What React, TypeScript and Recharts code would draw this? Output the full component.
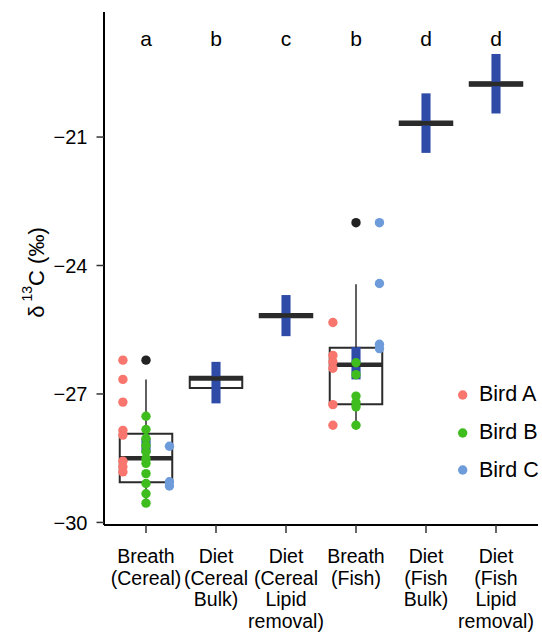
import {
  ComposedChart,
  ReferenceArea,
  ReferenceLine,
  Scatter,
  XAxis,
  YAxis,
} from "recharts";

const categories = [
  "Breath\n(Cereal)",
  "Diet\n(Cereal\nBulk)",
  "Diet\n(Cereal\nLipid\nremoval)",
  "Breath\n(Fish)",
  "Diet\n(Fish\nBulk)",
  "Diet\n(Fish\nLipid\nremoval)",
];
const letters = ["a", "b", "c", "b", "d", "d"];
const letterLevel = -18.69;

// box stats per category
const whiskerLow = [-29.55, -26.86, -25.17, -27.73, -20.68, -19.76];
const q1 = [-29.06, -26.86, -25.21, -27.24, -20.72, -19.8];
const median = [-28.5, -26.64, -25.17, -26.32, -20.68, -19.76];
const q3 = [-27.93, -26.6, -25.13, -25.92, -20.64, -19.72];
const whiskerHigh = [-26.66, -26.6, -25.17, -24.44, -20.68, -19.76];

// blue diet ranges
const dietLow = [-28.38, -27.22, -25.65, -26.66, -21.37, -20.45];
const dietHigh = [-28.03, -26.25, -24.69, -25.9, -19.98, -19.06];

const outlierGroups = [1, 4];
const outlierValues = [-26.21, -23.0];

const birdACereal = [-26.21, -26.66, -27.19, -27.85, -27.96, -28.57, -28.7, -28.82];
const birdBCereal = [-27.52, -27.83, -28.04, -28.2, -28.35, -28.51, -28.62, -28.86, -29.09, -29.33, -29.55];
const birdCCereal = [-28.22, -29.05, -29.15];
const birdAFish = [-25.33, -26.1, -26.25, -26.4, -27.25, -27.73];
const birdBFish = [-26.27, -26.55, -27.05, -27.2, -27.3, -27.73];
const birdCFish = [-23.0, -24.42, -25.84, -25.94];

const birds = ["Bird A", "Bird B", "Bird C"];
const birdColors = ["#F8766D", "#3FBD1F", "#6E9BD9"];
const FONT = "'Liberation Sans', Arial, sans-serif";

const dodge = [-0.33, 0, 0.335];
const toPoints = (group: number, vals: number[], k: number) =>
  vals.map((v) => ({ x: group + dodge[k], y: v }));

const birdData = [
  [...toPoints(1, birdACereal, 0), ...toPoints(4, birdAFish, 0)],
  [...toPoints(1, birdBCereal, 1), ...toPoints(4, birdBFish, 1)],
  [...toPoints(1, birdCCereal, 2), ...toPoints(4, birdCFish, 2)],
];
const outlierData = outlierGroups.map((g, i) => ({ x: g, y: outlierValues[i] }));
const letterData = letters.map((l, i) => ({ x: i + 1, y: letterLevel, text: l }));

const XTick = (props: any) => {
  const { x, y, payload } = props;
  const lines = categories[payload.value - 1].split("\n");
  return (
    <text x={x} y={y} textAnchor="middle" fontSize={19.5} fill="#000" fontFamily={FONT}>
      {lines.map((l, i) => (
        <tspan key={i} x={x} dy={i === 0 ? 28 : 21.7}>
          {l}
        </tspan>
      ))}
    </text>
  );
};

const Legend3 = () => (
  <div style={{ position: "absolute", left: 453, top: 376, fontFamily: FONT, fontSize: 21.5 }}>
    {birds.map((b, i) => (
      <div key={b} style={{ display: "flex", alignItems: "center", height: 37.8 }}>
        <svg width={20} height={12}>
          <circle cx={9.7} cy={6} r={4.7} fill={birdColors[i]} />
        </svg>
        <span style={{ marginLeft: 6 }}>{b}</span>
      </div>
    ))}
  </div>
);

const BOX = 0.375;
const BLUE = 0.065;

export default function App() {
  return (
    <div style={{ position: "absolute", left: 0, top: 0, width: 542, height: 636, background: "#fff" }}>
      <ComposedChart width={542} height={636} margin={{ top: 12, right: 4, bottom: 0, left: 0 }}>
        <XAxis
          type="number"
          dataKey="x"
          domain={[0.4, 6.6]}
          ticks={[1, 2, 3, 4, 5, 6]}
          height={111}
          tick={<XTick />}
          tickSize={8}
          axisLine={{ stroke: "#000", strokeWidth: 2 }}
          tickLine={{ stroke: "#333", strokeWidth: 1.5 }}
          allowDataOverflow
        />
        <YAxis
          type="number"
          dataKey="y"
          domain={[-30.06, -18.08]}
          ticks={[-30, -27, -24, -21]}
          width={104}
          tickSize={7.5}
          tickMargin={9}
          tickFormatter={(v: number) => String(v).replace("-", "\u2212")}
          tick={{ fill: "#000", fontSize: 20, fontFamily: FONT }}
          axisLine={{ stroke: "#000", strokeWidth: 2 }}
          tickLine={{ stroke: "#333", strokeWidth: 1.5 }}
          allowDataOverflow
          label={({ viewBox }: any) => {
            const cx = 36;
            const cy = viewBox.y + viewBox.height / 2 + 4;
            return (
              <text
                x={cx}
                y={cy}
                transform={`rotate(-90 ${cx} ${cy})`}
                textAnchor="middle"
                fontSize={22}
                fontFamily={FONT}
                fill="#000"
                dominantBaseline="central"
              >
                <tspan>δ</tspan>
                <tspan fontSize={14} dx={4} dy={-9}>13</tspan>
                <tspan dy={9}>C (‰)</tspan>
              </text>
            );
          }}
        />

        {categories.map((c, i) => (
          <ReferenceLine
            key={`wl-${c}`}
            segment={[
              { x: i + 1, y: whiskerLow[i] },
              { x: i + 1, y: q1[i] },
            ]}
            stroke="#2b2b2b"
            strokeWidth={1.5}
          />
        ))}
        {categories.map((c, i) => (
          <ReferenceLine
            key={`wh-${c}`}
            segment={[
              { x: i + 1, y: q3[i] },
              { x: i + 1, y: whiskerHigh[i] },
            ]}
            stroke="#2b2b2b"
            strokeWidth={1.5}
          />
        ))}
        {categories.map((c, i) => (
          <ReferenceArea
            key={`box-${c}`}
            x1={i + 1 - BOX}
            x2={i + 1 + BOX}
            y1={q1[i]}
            y2={q3[i]}
            fill="#fff"
            fillOpacity={1}
            stroke="#2b2b2b"
            strokeWidth={2}
          />
        ))}
        {categories.map((c, i) => (
          <ReferenceLine
            key={`med-${c}`}
            segment={[
              { x: i + 1 - BOX, y: median[i] },
              { x: i + 1 + BOX, y: median[i] },
            ]}
            stroke="#2b2b2b"
            strokeWidth={4.5}
          />
        ))}
        {categories.map((c, i) => (
          <ReferenceArea
            key={`diet-${c}`}
            x1={i + 1 - BLUE}
            x2={i + 1 + BLUE}
            y1={dietLow[i]}
            y2={dietHigh[i]}
            fill="#2F4BA8"
            fillOpacity={1}
            stroke="none"
          />
        ))}

        <Scatter
          data={outlierData}
          isAnimationActive={false}
          shape={(p: any) => <circle cx={p.cx} cy={p.cy} r={4.7} fill="#222" />}
        />
        {birds.map((b, k) => (
          <Scatter
            key={b}
            name={b}
            data={birdData[k]}
            isAnimationActive={false}
            shape={(p: any) => <circle cx={p.cx} cy={p.cy} r={4.7} fill={birdColors[k]} />}
          />
        ))}
        <Scatter
          data={letterData}
          isAnimationActive={false}
          shape={(p: any) => (
            <text x={p.cx} y={p.cy + 7.5} textAnchor="middle" fontSize={21} fontFamily={FONT} fill="#000">
              {p.payload.text}
            </text>
          )}
        />
      </ComposedChart>
      <Legend3 />
    </div>
  );
}
